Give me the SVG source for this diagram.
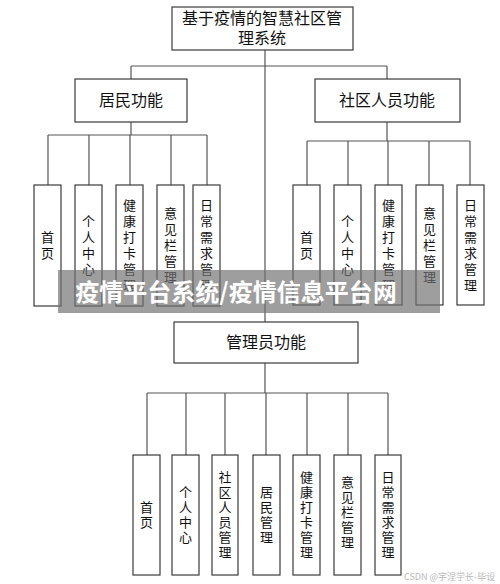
<svg xmlns="http://www.w3.org/2000/svg" width="500" height="584" viewBox="0 0 500 584">
<style>
.box{fill:#fff;stroke:#3a3a3a;stroke-width:1.2}
.ln{fill:none;stroke:#555;stroke-width:1.2}
.t{font-family:"Noto Sans CJK SC","Noto Sans CJK JP",sans-serif;fill:#111;text-anchor:middle}
.h{font-size:16px}
.v{font-size:13px}
.wm{font-family:"Noto Sans CJK SC",sans-serif;font-weight:bold;font-size:24px;fill:#fff;text-anchor:middle}
.cs{font-family:"Noto Sans CJK SC",sans-serif;font-size:9px;fill:#b8b8b8}
</style>
<rect width="500" height="584" fill="#fff"/>
<g id="connectors">
<path class="ln" d="M265 50V322M131 66H387M131 66V79M387 66V79"/>
<path class="ln" d="M131 122V135M48 135H207M48 135V185M89 135V185M130 135V185M171 135V185M207 135V185"/>
<path class="ln" d="M387 122V141M307 141H470M307 141V185M348 141V185M388 141V185M429 141V185M470 141V185"/>
<path class="ln" d="M265 363V393M147 393H388M147 393V455M186 393V455M225 393V455M266 393V455M307 393V455M348 393V455M388 393V455"/>
</g>
<g id="root"><rect class="box" x="172" y="7" width="181" height="43"/><text class="t h" x="262" y="24">基于疫情的智慧社区管</text><text class="t h" x="262" y="44">理系统</text></g>
<g id="resident"><rect class="box" x="75" y="79" width="112" height="43"/><text class="t h" x="131" y="106">居民功能</text></g>
<g id="staff"><rect class="box" x="315" y="79" width="145" height="43"/><text class="t h" x="387" y="106">社区人员功能</text></g>
<g id="admin"><rect class="box" x="174" y="322" width="184" height="41"/><text class="t h" x="266" y="348">管理员功能</text></g>
<g id="r1"><rect class="box" x="34" y="185" width="27" height="121"/><text class="t v" x="47.5 47.5" y="242 258">首页</text></g>
<g id="r2"><rect class="box" x="75" y="185" width="27" height="121"/><text class="t v" x="88.5 88.5 88.5 88.5" y="226 242 258 274">个人中心</text></g>
<g id="r3"><rect class="box" x="116" y="185" width="27" height="121"/><text class="t v" x="129.5 129.5 129.5 129.5 129.5 129.5" y="210 226 242 258 274 290">健康打卡管理</text></g>
<g id="r4"><rect class="box" x="157" y="185" width="27" height="121"/><text class="t v" x="170.5 170.5 170.5 170.5 170.5" y="218 234 250 266 282">意见栏管理</text></g>
<g id="r5"><rect class="box" x="193" y="185" width="27" height="121"/><text class="t v" x="206.5 206.5 206.5 206.5 206.5 206.5" y="210 226 242 258 274 290">日常需求管理</text></g>
<g id="s1"><rect class="box" x="293" y="185" width="27" height="120"/><text class="t v" x="306.5 306.5" y="242 258">首页</text></g>
<g id="s2"><rect class="box" x="334" y="185" width="27" height="120"/><text class="t v" x="347.5 347.5 347.5 347.5" y="226 242 258 274">个人中心</text></g>
<g id="s3"><rect class="box" x="375" y="185" width="27" height="120"/><text class="t v" x="388.5 388.5 388.5 388.5 388.5 388.5" y="210 226 242 258 274 290">健康打卡管理</text></g>
<g id="s4"><rect class="box" x="416" y="185" width="27" height="120"/><text class="t v" x="429.5 429.5 429.5 429.5 429.5" y="218 234 250 266 282">意见栏管理</text></g>
<g id="s5"><rect class="box" x="457" y="185" width="27" height="120"/><text class="t v" x="470.5 470.5 470.5 470.5 470.5 470.5" y="210 226 242 258 274 290">日常需求管理</text></g>
<g id="a1"><rect class="box" x="133" y="455" width="27" height="120"/><text class="t v" x="146.5 146.5" y="512 527">首页</text></g>
<g id="a2"><rect class="box" x="172" y="455" width="27" height="120"/><text class="t v" x="185.5 185.5 185.5 185.5" y="497 512 527 542">个人中心</text></g>
<g id="a3"><rect class="box" x="212" y="455" width="26" height="120"/><text class="t v" x="225 225 225 225 225 225" y="482 497 512 527 542 557">社区人员管理</text></g>
<g id="a4"><rect class="box" x="253" y="455" width="27" height="120"/><text class="t v" x="266.5 266.5 266.5 266.5" y="497 512 527 542">居民管理</text></g>
<g id="a5"><rect class="box" x="293" y="455" width="27" height="120"/><text class="t v" x="306.5 306.5 306.5 306.5 306.5 306.5" y="482 497 512 527 542 557">健康打卡管理</text></g>
<g id="a6"><rect class="box" x="334" y="455" width="27" height="120"/><text class="t v" x="347.5 347.5 347.5 347.5 347.5" y="487 502 517 532 547">意见栏管理</text></g>
<g id="a7"><rect class="box" x="375" y="455" width="26" height="120"/><text class="t v" x="388 388 388 388 388 388" y="482 497 512 527 542 557">日常需求管理</text></g>
<g id="watermark"><rect x="58" y="270" width="382" height="43" fill="#707070" fill-opacity="0.68"/><text class="wm" x="236" y="301">疫情平台系统/疫情信息平台网</text></g>
<text class="cs" x="404" y="580">CSDN @宇涅学长-毕设</text>
</svg>
